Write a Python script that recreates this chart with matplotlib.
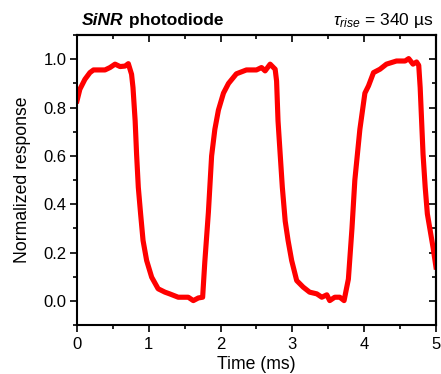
import numpy as np
import matplotlib.pyplot as plt
from matplotlib.ticker import MultipleLocator

plt.rcParams['font.family'] = ['Liberation Sans', 'DejaVu Sans']
plt.rcParams['mathtext.fontset'] = 'custom'
plt.rcParams['mathtext.rm'] = 'Liberation Sans'
plt.rcParams['mathtext.it'] = 'Liberation Sans:italic'

# time (ms) and normalized photoresponse
time_ms = [0.00, 0.04, 0.11, 0.18, 0.23, 0.39, 0.46, 0.53, 0.60, 0.67, 0.715,
           0.76, 0.78, 0.81, 0.83, 0.854, 0.886, 0.92, 0.97, 1.04, 1.13, 1.225,
           1.29, 1.41, 1.55, 1.62, 1.69, 1.75, 1.78, 1.83, 1.875, 1.92, 1.97,
           2.04, 2.11, 2.22, 2.29, 2.36, 2.50, 2.57, 2.62, 2.69, 2.76, 2.78,
           2.80, 2.83, 2.86, 2.90, 2.94, 2.99, 3.06, 3.15, 3.24, 3.34, 3.41,
           3.48, 3.52, 3.59, 3.66, 3.72, 3.78, 3.83, 3.87, 3.94, 4.01, 4.06,
           4.13, 4.22, 4.31, 4.45, 4.57, 4.62, 4.68, 4.73, 4.76, 4.78, 4.80,
           4.82, 4.85, 4.88, 4.92, 4.96, 5.00]
response = [0.828, 0.876, 0.917, 0.945, 0.956, 0.956, 0.966, 0.980, 0.970, 0.972, 0.982,
            0.938, 0.883, 0.745, 0.607, 0.470, 0.360, 0.250, 0.167, 0.098, 0.050, 0.036,
            0.029, 0.015, 0.015, 0.001, 0.012, 0.015, 0.160, 0.366, 0.600, 0.710, 0.790,
            0.860, 0.900, 0.940, 0.948, 0.956, 0.956, 0.966, 0.952, 0.980, 0.959, 0.910,
            0.745, 0.607, 0.470, 0.330, 0.250, 0.167, 0.084, 0.057, 0.036, 0.029, 0.015,
            0.025, 0.001, 0.015, 0.015, 0.001, 0.090, 0.300, 0.500, 0.710, 0.860, 0.890,
            0.945, 0.959, 0.980, 0.993, 0.993, 1.003, 0.980, 0.989, 0.975, 0.883, 0.745,
            0.607, 0.470, 0.360, 0.290, 0.220, 0.140]

fig = plt.figure(figsize=(4.41, 3.74), dpi=100)
ax = fig.add_axes([0.1746, 0.131, 0.814, 0.775])

ax.plot(time_ms, response, color='#ff0000', lw=3.7, solid_joinstyle='round')

ax.set_xlim(0, 5)
ax.set_ylim(-0.1, 1.1)
ax.xaxis.set_major_locator(MultipleLocator(1))
ax.xaxis.set_minor_locator(MultipleLocator(0.5))
ax.yaxis.set_major_locator(MultipleLocator(0.2))
ax.yaxis.set_minor_locator(MultipleLocator(0.1))
ax.yaxis.set_major_formatter(lambda v, p: f'{v:.1f}')
ax.tick_params(which='both', direction='out', width=1.2, labelsize=12, color='black')
ax.tick_params(which='major', length=5)
ax.tick_params(which='minor', length=3)
ax.tick_params(axis='y', pad=2.5)
for s in ax.spines.values():
    s.set_linewidth(1.5)

# mirrored ticks pointing inward on top and right
top = ax.secondary_xaxis('top')
top.xaxis.set_major_locator(MultipleLocator(1))
top.xaxis.set_minor_locator(MultipleLocator(0.5))
top.tick_params(which='both', direction='in', labeltop=False, width=1.2)
top.tick_params(which='major', length=5)
top.tick_params(which='minor', length=3)
right = ax.secondary_yaxis('right')
right.yaxis.set_major_locator(MultipleLocator(0.2))
right.yaxis.set_minor_locator(MultipleLocator(0.1))
right.tick_params(which='both', direction='in', labelright=False, width=1.2)
right.tick_params(which='major', length=5)
right.tick_params(which='minor', length=3)
top.spines['top'].set_linewidth(1.5)
right.spines['right'].set_linewidth(1.5)

ax.set_xlabel('Time (ms)', fontsize=12.7, labelpad=3)
ax.set_ylabel('Normalized response', fontsize=12.7, labelpad=9)

t1 = fig.text(82 / 441, 1 - 25 / 374, 'SiNR', fontsize=12.5, fontweight='bold',
              fontstyle='italic')
ax.annotate(' photodiode', xy=(1, 0), xycoords=t1, va='bottom', fontsize=12.5,
            fontweight='bold')
fig.text(433 / 441, 1 - 25 / 374, r'$\mathit{\tau_{rise}}$ = 340 µs', fontsize=12.5,
         ha='right')

fig.savefig('out.png', dpi=100)
